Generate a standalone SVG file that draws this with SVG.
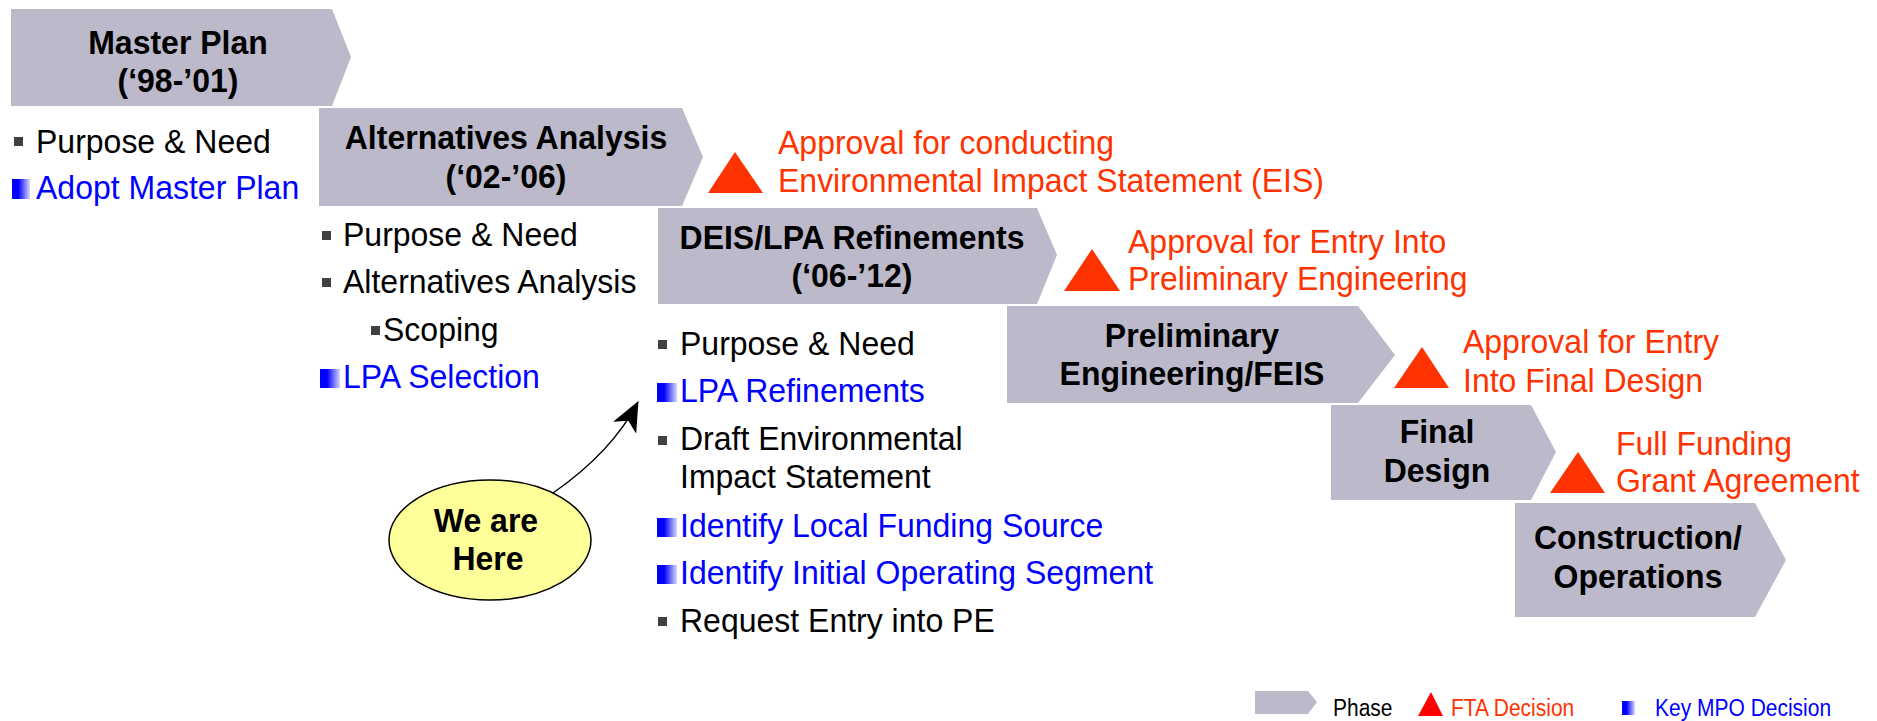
<svg xmlns="http://www.w3.org/2000/svg" width="1877" height="721" viewBox="0 0 1877 721">
<style>
  .phase { fill: #BBB9CA; }
  .hdr { font-family: "Liberation Sans", Arial, sans-serif; font-weight: bold; font-size: 32px; fill: #000; text-anchor: middle; }
  .txt { font-family: "Liberation Sans", Arial, sans-serif; font-size: 32px; fill: #000; }
  .blue { fill: #0000FF; }
  .fta { font-family: "Liberation Sans", Arial, sans-serif; font-size: 32px; fill: #FF3300; }
  .tri { fill: #FF3300; }
  .gb { fill: #404040; }
  .leg { font-family: "Liberation Sans", Arial, sans-serif; font-size: 21px; }
</style>
<defs>
  <linearGradient id="bg" x1="0" y1="0" x2="1" y2="0">
    <stop offset="0" stop-color="#0000FF"/>
    <stop offset="0.35" stop-color="#0000FF"/>
    <stop offset="1" stop-color="#D8D8FF"/>
  </linearGradient>
  <marker id="ah" markerUnits="userSpaceOnUse" markerWidth="30" markerHeight="26" viewBox="0 0 30 26" refX="29" refY="13" orient="auto">
    <path d="M0,0 L30,13 L0,26 L8,13 Z" fill="#000"/>
  </marker>
</defs>

<g id="phase-master-plan">
  <polygon class="phase" points="11,9 332,9 351,57 332,106 11,106"/>
  <text class="hdr" x="178" y="54" transform="matrix(1 0 0 1.06 0 -3.24)">Master Plan</text>
  <text class="hdr" x="178" y="92" transform="matrix(1 0 0 1.06 0 -5.52)">(‘98-’01)</text>
</g>
<g id="list-master-plan">
  <rect class="gb" x="14" y="137" width="9" height="9"/>
  <text class="txt" x="36" y="153" transform="matrix(1 0 0 1.06 0 -9.18)">Purpose &amp; Need</text>
  <rect fill="url(#bg)" x="12" y="179" width="18" height="20"/>
  <text class="txt blue" x="36" y="199" transform="matrix(1 0 0 1.06 0 -11.94)">Adopt Master Plan</text>
</g>

<g id="phase-alternatives">
  <polygon class="phase" points="319,108 682,108 703,157 682,206 319,206"/>
  <text class="hdr" x="506" y="149" transform="matrix(1 0 0 1.06 0 -8.94)">Alternatives Analysis</text>
  <text class="hdr" x="506" y="188" transform="matrix(1 0 0 1.06 0 -11.28)">(‘02-’06)</text>
</g>
<g id="list-alternatives">
  <rect class="gb" x="322" y="231" width="9" height="9"/>
  <text class="txt" x="343" y="246" transform="matrix(1 0 0 1.06 0 -14.76)">Purpose &amp; Need</text>
  <rect class="gb" x="322" y="278" width="9" height="9"/>
  <text class="txt" x="343" y="293" transform="matrix(1 0 0 1.06 0 -17.58)">Alternatives Analysis</text>
  <rect class="gb" x="371" y="326" width="9" height="9"/>
  <text class="txt" x="383" y="341" transform="matrix(1 0 0 1.06 0 -20.46)">Scoping</text>
  <rect fill="url(#bg)" x="320" y="369" width="20" height="19"/>
  <text class="txt blue" x="343" y="388" transform="matrix(1 0 0 1.06 0 -23.28)">LPA Selection</text>
</g>

<g id="fta-eis">
  <polygon class="tri" points="708,193 735,152 763,193"/>
  <text class="fta" x="778" y="154" transform="matrix(1 0 0 1.06 0 -9.24)">Approval for conducting</text>
  <text class="fta" x="778" y="192" transform="matrix(1 0 0 1.06 0 -11.52)">Environmental Impact Statement (EIS)</text>
</g>

<g id="phase-deis">
  <polygon class="phase" points="658,208 1037,208 1057,255 1037,304 658,304"/>
  <text class="hdr" x="852" y="249" transform="matrix(1 0 0 1.06 0 -14.94)">DEIS/LPA Refinements</text>
  <text class="hdr" x="852" y="287" transform="matrix(1 0 0 1.06 0 -17.22)">(‘06-’12)</text>
</g>
<g id="list-deis">
  <rect class="gb" x="658" y="340" width="9" height="9"/>
  <text class="txt" x="680" y="355" transform="matrix(1 0 0 1.06 0 -21.3)">Purpose &amp; Need</text>
  <rect fill="url(#bg)" x="657" y="383" width="20" height="19"/>
  <text class="txt blue" x="680" y="402" transform="matrix(1 0 0 1.06 0 -24.12)">LPA Refinements</text>
  <rect class="gb" x="658" y="436" width="9" height="9"/>
  <text class="txt" x="680" y="450" transform="matrix(1 0 0 1.06 0 -27)">Draft Environmental</text>
  <text class="txt" x="680" y="488" transform="matrix(1 0 0 1.06 0 -29.28)">Impact Statement</text>
  <rect fill="url(#bg)" x="657" y="518" width="20" height="19"/>
  <text class="txt blue" x="680" y="537" transform="matrix(1 0 0 1.06 0 -32.22)">Identify Local Funding Source</text>
  <rect fill="url(#bg)" x="657" y="565" width="20" height="19"/>
  <text class="txt blue" x="680" y="584" transform="matrix(1 0 0 1.06 0 -35.04)">Identify Initial Operating Segment</text>
  <rect class="gb" x="658" y="617" width="9" height="9"/>
  <text class="txt" x="680" y="632" transform="matrix(1 0 0 1.06 0 -37.92)">Request Entry into PE</text>
</g>

<g id="fta-pe">
  <polygon class="tri" points="1064,291 1092,249 1120,291"/>
  <text class="fta" x="1128" y="253" transform="matrix(1 0 0 1.06 0 -15.18)">Approval for Entry Into</text>
  <text class="fta" x="1128" y="290" transform="matrix(1 0 0 1.06 0 -17.4)">Preliminary Engineering</text>
</g>

<g id="phase-pe">
  <polygon class="phase" points="1007,306 1358,306 1395,355 1358,403 1007,403"/>
  <text class="hdr" x="1192" y="347" transform="matrix(1 0 0 1.06 0 -20.82)">Preliminary</text>
  <text class="hdr" x="1192" y="385" transform="matrix(1 0 0 1.06 0 -23.1)">Engineering/FEIS</text>
</g>

<g id="fta-fd">
  <polygon class="tri" points="1394,388 1422,347 1449,388"/>
  <text class="fta" x="1463" y="353" transform="matrix(1 0 0 1.06 0 -21.18)">Approval for Entry</text>
  <text class="fta" x="1463" y="392" transform="matrix(1 0 0 1.06 0 -23.52)">Into Final Design</text>
</g>

<g id="phase-fd">
  <polygon class="phase" points="1331,405 1531,405 1556,452 1531,500 1331,500"/>
  <text class="hdr" x="1437" y="443" transform="matrix(1 0 0 1.06 0 -26.58)">Final</text>
  <text class="hdr" x="1437" y="482" transform="matrix(1 0 0 1.06 0 -28.92)">Design</text>
</g>

<g id="fta-ffga">
  <polygon class="tri" points="1550,493 1578,452 1605,493"/>
  <text class="fta" x="1616" y="455" transform="matrix(1 0 0 1.06 0 -27.3)">Full Funding</text>
  <text class="fta" x="1616" y="492" transform="matrix(1 0 0 1.06 0 -29.52)">Grant Agreement</text>
</g>

<g id="phase-construction">
  <polygon class="phase" points="1515,503 1755,503 1786,560 1755,617 1515,617"/>
  <text class="hdr" x="1638" y="549" transform="matrix(1 0 0 1.06 0 -32.94)">Construction/</text>
  <text class="hdr" x="1638" y="588" transform="matrix(1 0 0 1.06 0 -35.28)">Operations</text>
</g>

<g id="we-are-here">
  <ellipse cx="490" cy="540" rx="101" ry="60" fill="#FFFF99" stroke="#000" stroke-width="1.5"/>
  <text class="hdr" x="486" y="532" transform="matrix(1 0 0 1.06 0 -31.92)">We are</text>
  <text class="hdr" x="488" y="570" transform="matrix(1 0 0 1.06 0 -34.2)">Here</text>
</g>

<g id="connectors">
  <path d="M553,493 Q612,452 638,402" fill="none" stroke="#000" stroke-width="1.5" marker-end="url(#ah)"/>
</g>

<g id="legend">
  <polygon class="phase" points="1255,691 1308,691 1317,702 1308,714 1255,714"/>
  <text class="leg" x="1333" y="716" fill="#000" transform="matrix(1 0 0 1.1 0 -71.6)">Phase</text>
  <polygon points="1418,716 1431,692 1443,716" fill="#FF0000"/>
  <text class="leg" x="1451" y="716" fill="#FF3300" transform="matrix(1 0 0 1.1 0 -71.6)">FTA Decision</text>
  <rect fill="url(#bg)" x="1622" y="701" width="13" height="14"/>
  <text class="leg" x="1655" y="716" fill="#0000FF" transform="matrix(1 0 0 1.1 0 -71.6)">Key MPO Decision</text>
</g>
</svg>
